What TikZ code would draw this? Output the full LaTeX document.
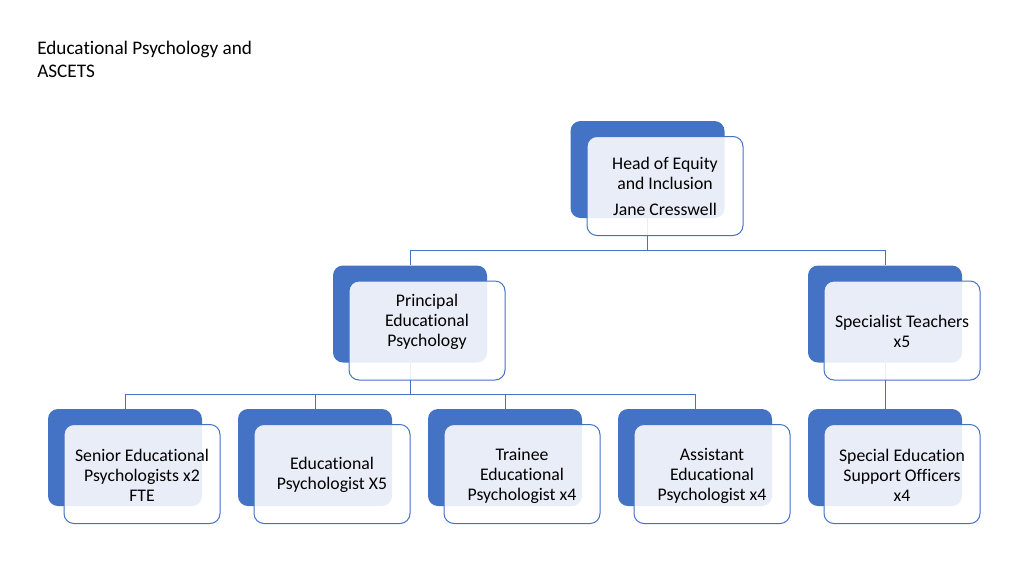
\documentclass[tikz,border=0pt]{standalone}
\usepackage{fontspec}
\setmainfont{Carlito}[Ligatures={NoCommon}]
\definecolor{blueA}{HTML}{4472C4}
\pgfdeclarelayer{bg}
\pgfdeclarelayer{lines}
\pgfsetlayers{bg,lines,main}
\begin{document}
\begin{tikzpicture}[x=0.75pt,y=-0.75pt,
  backbox/.style={fill=blueA, draw=none, rounded corners=7.5pt, minimum width=115.5pt, minimum height=72.75pt, inner sep=0pt},
  frontbox/.style={fill=white, fill opacity=0.88, draw=blueA, line width=0.75pt, rounded corners=7.5pt, minimum width=117pt, minimum height=74.25pt, inner sep=0pt},
  lbl/.style={align=center, font=\fontsize{13.3pt}{15pt}\selectfont, text=black, inner sep=0pt},
  conn/.style={draw=blueA, line width=0.75pt}]
\begin{pgfonlayer}{bg}
\fill[white] (0,0) rectangle (1024,576);
\end{pgfonlayer}
\useasboundingbox (0,0) rectangle (1024,576);
% title
\node[anchor=north west, align=left, inner sep=0pt, font=\fontsize{14.4pt}{17.3pt}\selectfont] (title) at (37,41) {Educational Psychology and\\ASCETS};
% bus coordinates
\coordinate (busA) at (0,250);
\coordinate (busB) at (0,394);
% back boxes
\node[backbox] (hb) at (647.5,169.5) {};
\node[backbox] (pb) at (410,314) {};
\node[backbox] (sb) at (885,314) {};
\node[backbox] (b1) at (125,457.5) {};
\node[backbox] (b2) at (315,457.5) {};
\node[backbox] (b3) at (505,457.5) {};
\node[backbox] (b4) at (695,457.5) {};
\node[backbox] (b5) at (885,457.5) {};
% front boxes
\node[frontbox] (hf) at (665,186) {};
\node[frontbox] (pf) at (427,330.5) {};
\node[frontbox] (sf) at (902,330.5) {};
\node[frontbox] (f1) at (142,474) {};
\node[frontbox] (f2) at (332,474) {};
\node[frontbox] (f3) at (522,474) {};
\node[frontbox] (f4) at (712,474) {};
\node[frontbox] (f5) at (902,474) {};
% labels
\node[lbl] (th) at (665,186.5) {Head of Equity\\and Inclusion\\[5pt]Jane Cresswell};
\node[lbl] (tp) at (427,321.5) {Principal\\Educational\\Psychology};
\node[lbl] (ts) at (902,331.5) {Specialist Teachers\\x5};
\node[lbl] (t1) at (142,475.5) {Senior Educational\\Psychologists x2\\FTE};
\node[lbl] (t2) at (332,475) {Educational\\Psychologist X5};
\node[lbl] (t3) at (522,475.5) {Trainee\\Educational\\Psychologist x4};
\node[lbl] (t4) at (712,475.5) {Assistant\\Educational\\Psychologist x4};
\node[lbl] (t5) at (902,475.5) {Special Education\\Support Officers\\x4};
% connectors (behind boxes)
\begin{pgfonlayer}{lines}
\draw[conn] (hb.south) -- (hb.south |- busA) -| (pb.north);
\draw[conn] (hb.south |- busA) -| (sb.north);
\draw[conn] (pb.south) -- (pb.south |- busB) -| (b1.north);
\draw[conn] (pb.south |- busB) -| (b2.north);
\draw[conn] (pb.south |- busB) -| (b3.north);
\draw[conn] (pb.south |- busB) -| (b4.north);
\draw[conn] (sb.south) -- (b5.north);
\end{pgfonlayer}
\end{tikzpicture}
\end{document}
